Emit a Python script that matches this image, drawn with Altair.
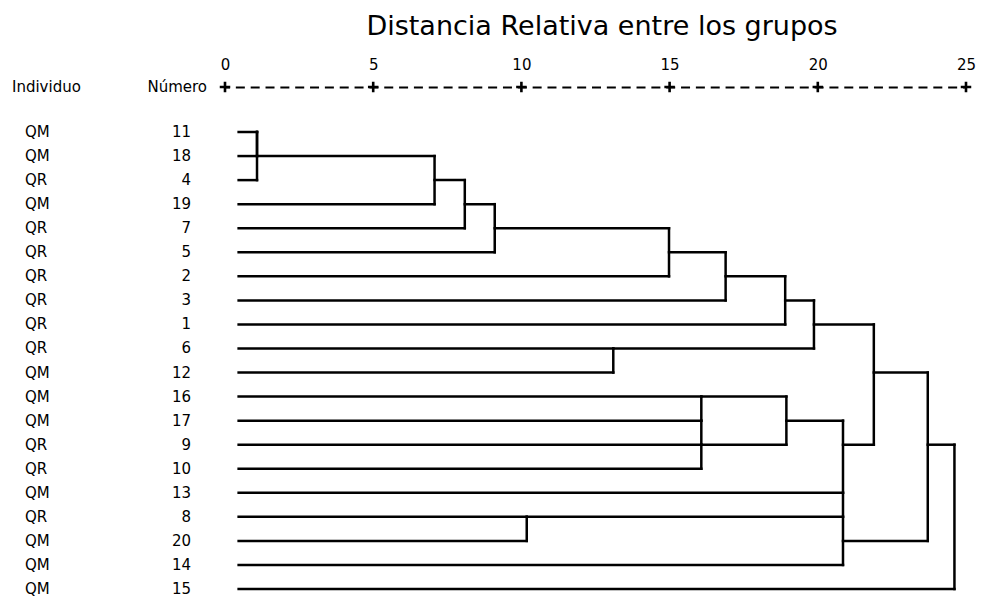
import altair as alt
import pandas as pd

# ---- data ----
individuo = ["QM", "QM", "QR", "QM", "QR", "QR", "QR", "QR", "QR", "QR",
             "QM", "QM", "QM", "QR", "QR", "QM", "QR", "QM", "QM", "QM"]
numero = [11, 18, 4, 19, 7, 5, 2, 3, 1, 6, 12, 16, 17, 9, 10, 13, 8, 20, 14, 15]

# agglomeration schedule: children 0-19 are rows (top to bottom), 20+ are earlier merges
merge_a = [0, 20, 21, 22, 23, 24, 25, 26, 9, 27, 11, 13, 30, 32, 16, 34, 29, 36, 37]
merge_b = [1, 2, 3, 4, 5, 6, 7, 8, 10, 28, 12, 14, 31, 15, 17, 18, 33, 35, 19]
merge_d = [1.08, 1.08, 7.07, 8.09, 9.10, 14.98, 16.89, 18.90, 13.10, 19.87,
           16.07, 16.07, 18.94, 20.85, 10.18, 20.85, 21.89, 23.71, 24.61]
leaf_start = 0.46
tick_values = [0, 5, 10, 15, 20, 25]
header_labels = ["Individuo", "Número"]
title_text = "Distancia Relativa entre los grupos"

# ---- build dendrogram segments ----
n = len(numero)
row = {i: i for i in range(n)}
height = {i: leaf_start for i in range(n)}
segs = []
verts = []
for k, (a, b, d) in enumerate(zip(merge_a, merge_b, merge_d)):
    node = n + k
    for c in (a, b):
        segs.append(dict(x=height[c], x2=d, y=row[c], y2=row[c]))
    lo, hi = sorted((row[a], row[b]))
    segs.append(dict(x=d, x2=d, y=lo, y2=hi))
    verts.append((d, lo, hi))
    row[node] = (row[a] + row[b]) // 2
    height[node] = d
for d1, lo1, hi1 in verts:
    for d2, lo2, hi2 in verts:
        if d1 == d2 and hi1 + 1 == lo2:
            segs.append(dict(x=d1, x2=d1, y=hi1, y2=lo2))
seg_df = pd.DataFrame(segs)

lab_df = pd.DataFrame({"row": list(range(n)), "ind": individuo, "num": [str(v) for v in numero]})
tick_df = pd.DataFrame({"t": tick_values})

FONT = "DejaVu Sans"
x_scale = alt.Scale(domain=[0, 25], nice=False, zero=False)
y_scale = alt.Scale(domain=[-1.871, 19.29], reverse=True, nice=False, zero=False)

lines = alt.Chart(seg_df).mark_rule(color="black", strokeWidth=2.5, strokeCap="square").encode(
    x=alt.X("x:Q", scale=x_scale,
            axis=alt.Axis(orient="top", values=tick_values, title=None, grid=False,
                          ticks=False, domain=True, domainColor="black", domainWidth=2,
                          domainDash=[9, 5.84], domainDashOffset=4.5,
                          labelFont=FONT, labelFontSize=15, labelColor="black",
                          labelPadding=15, labelFlush=False, labelOverlap=False)),
    x2="x2:Q",
    y=alt.Y("y:Q", scale=y_scale, axis=None),
    y2="y2:Q",
)

plus = alt.Chart(tick_df).mark_point(
    shape="M-1,0H1M0,-1V1", size=110, filled=False, color="black", strokeWidth=2.6, opacity=1
).encode(x=alt.X("t:Q", scale=x_scale), y=alt.value(0))

ind_text = alt.Chart(lab_df).mark_text(align="left", baseline="middle", font=FONT,
                                       fontSize=15, color="black").encode(
    x=alt.value(-200), y=alt.Y("row:Q", scale=y_scale), text="ind:N")

num_text = alt.Chart(lab_df).mark_text(align="right", baseline="middle", font=FONT,
                                       fontSize=15, color="black").encode(
    x=alt.value(-34), y=alt.Y("row:Q", scale=y_scale), text="num:N")

h1 = alt.Chart(pd.DataFrame({"t": [header_labels[0]]})).mark_text(
    align="left", baseline="middle", font=FONT, fontSize=15, color="black"
).encode(x=alt.value(-213), y=alt.value(0), text="t:N")

h2 = alt.Chart(pd.DataFrame({"t": [header_labels[1]]})).mark_text(
    align="right", baseline="middle", font=FONT, fontSize=15, color="black"
).encode(x=alt.value(-18), y=alt.value(0), text="t:N")

title = alt.Chart(pd.DataFrame({"t": [title_text]})).mark_text(
    align="center", baseline="alphabetic", font=FONT, fontSize=27, color="black"
).encode(x=alt.value(377), y=alt.value(-52), text="t:N")

chart = alt.layer(lines, plus, ind_text, num_text, h1, h2, title).properties(
    width=741, height=509,
    autosize=alt.AutoSizeParams(type="none"),
    padding={"left": 217, "top": 79, "right": 10, "bottom": 2},
    background="white",
).configure_view(stroke=None)

chart.save("out.html", embed_options={"renderer": "svg", "actions": False})
